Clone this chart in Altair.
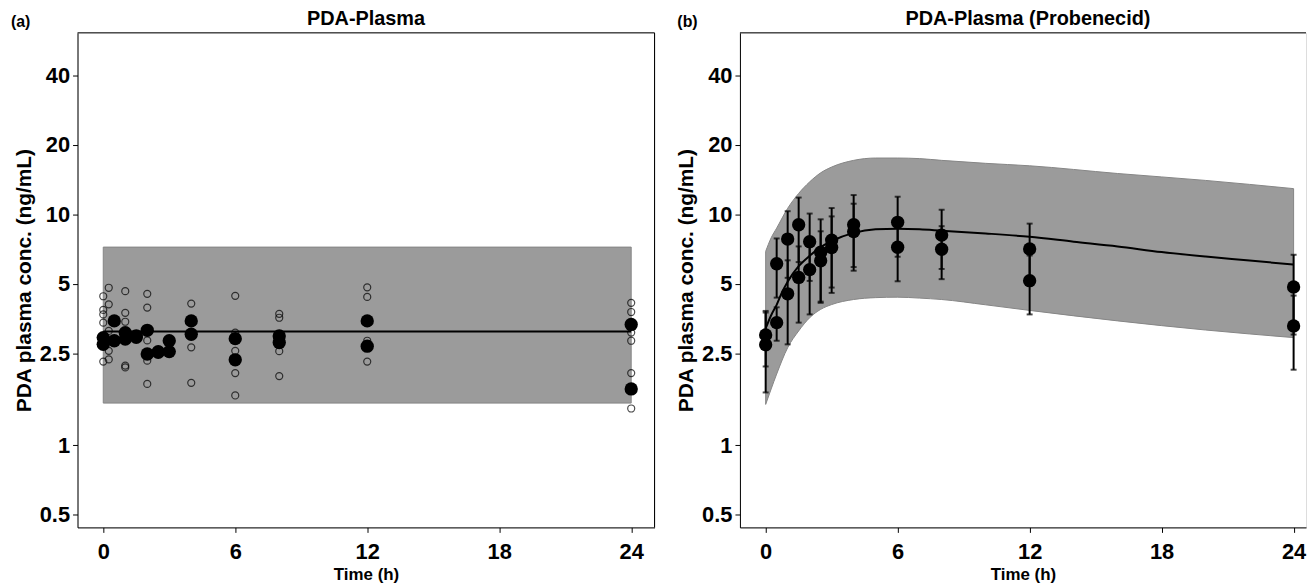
import altair as alt
import pandas as pd

# ---------------- Panel (a): PDA-Plasma ----------------
a_open_t = [0, 0, 0, 0, 0, 0.25, 0.25, 0.25, 0.25, 0.25, 1, 1, 1, 1, 1,
            2, 2, 2, 2, 2, 4, 4, 4, 6, 6, 6, 6, 6, 8, 8, 8, 8,
            12, 12, 12, 12, 24, 24, 24, 24, 24, 24]
a_open_v = [4.41, 3.85, 3.68, 3.39, 2.30, 4.80, 4.07, 3.12, 2.56, 2.35,
            4.64, 3.74, 3.42, 2.21, 2.17, 4.52, 3.94, 2.84, 2.32, 1.84,
            4.10, 2.65, 1.86, 4.43, 3.07, 2.56, 2.05, 1.64,
            3.70, 3.56, 2.55, 1.99, 4.82, 4.38, 2.83, 2.30,
            4.13, 3.77, 3.07, 2.83, 2.05, 1.44]

a_mean_t = [0, 0, 0.5, 0.5, 1, 1, 1.5, 1.5, 2, 2, 2.5, 2.5, 3, 3,
            4, 4, 6, 6, 8, 8, 12, 12, 24, 24]
a_mean_v = [2.92, 2.73, 3.45, 2.83, 3.07, 2.88, 2.97, 2.93, 3.14, 2.48,
            2.54, 2.52, 2.83, 2.54, 3.45, 3.02, 2.89, 2.34, 2.97, 2.78,
            3.45, 2.68, 3.33, 1.75]

a_band_t = [0, 24]
a_band_lo = [1.52, 1.52]
a_band_hi = [7.2, 7.2]
a_line_v = [3.1, 3.1]

# ---------------- Panel (b): PDA-Plasma (Probenecid) ----------------
b_obs_t = [0, 0, 0.5, 0.5, 1, 1, 1.5, 1.5, 2, 2, 2.5, 2.5, 3, 3,
           4, 4, 6, 6, 8, 8, 12, 12, 24, 24]
b_obs_v = [3.00, 2.72, 6.10, 3.39, 7.80, 4.52, 9.00, 5.32, 7.60, 5.75,
           6.84, 6.28, 7.72, 7.17, 9.00, 8.40, 9.22, 7.19, 8.12, 7.05,
           7.07, 5.15, 4.84, 3.28]
b_obs_lo = [2.19, 1.69, 4.35, 2.83, 5.30, 2.73, 6.20, 3.39, 5.14, 3.68,
            4.18, 4.13, 4.81, 4.56, 5.90, 5.69, 6.54, 5.12, 5.79, 5.23,
            5.04, 3.68, 3.01, 2.12]
b_obs_hi = [3.81, 3.75, 7.85, 3.95, 10.30, 6.31, 11.80, 7.25, 10.06, 7.82,
            9.50, 8.43, 10.63, 9.78, 12.10, 11.10, 11.90, 9.26, 10.45, 8.87,
            9.10, 6.62, 6.67, 4.44]

b_pred_t = [0, 0.25, 0.5, 0.75, 1, 1.5, 2, 2.5, 3, 4, 5, 6, 7, 8,
            10, 12, 14, 16, 18, 20, 22, 24]
b_pred_v = [3.2, 3.65, 4.05, 4.6, 5.1, 5.95, 6.6, 7.2, 7.65, 8.3, 8.6,
            8.65, 8.6, 8.48, 8.25, 7.98, 7.6, 7.25, 6.85, 6.55, 6.3, 6.05]

b_band_t = [0, 0.25, 0.5, 1, 1.5, 2, 2.5, 3, 4, 5, 6, 7, 8, 10, 12, 16, 20, 24]
b_band_lo = [1.5, 1.75, 2.03, 2.64, 3.12, 3.56, 3.87, 4.06, 4.27, 4.35,
             4.37, 4.33, 4.27, 4.05, 3.83, 3.45, 3.15, 2.92]
b_band_hi = [6.9, 7.9, 8.7, 10.6, 12.3, 13.8, 15.1, 16.0, 17.1, 17.5,
             17.5, 17.4, 17.1, 16.6, 16.2, 15.0, 14.0, 12.9]

y_ticks = [0.5, 1, 2.5, 5, 10, 20, 40]
x_ticks = [0, 6, 12, 18, 24]

FONT = "Liberation Sans"
PX_PER_H = 22.15
W1, W2, H = 581, 570, 498
X_MIN = -1.17
Y_DOMAIN = [0.44, 61]
BAND_FILL = "#9b9b9b"
LBL = 22


def x_enc(domain_max):
    return alt.X(
        "t:Q",
        scale=alt.Scale(domain=[X_MIN, domain_max], nice=False, zero=False),
        axis=alt.Axis(values=x_ticks, title="Time (h)", grid=False,
                      labelFont=FONT, labelFontSize=LBL, labelFontWeight="bold",
                      labelColor="black", titleFont=FONT, titleFontSize=17,
                      titleFontWeight="bold", titleColor="black",
                      tickColor="black", domainColor="black", tickSize=5,
                      labelPadding=9, titlePadding=4),
    )


def y_enc(field="v"):
    return alt.Y(
        f"{field}:Q",
        scale=alt.Scale(type="log", domain=Y_DOMAIN, nice=False),
        axis=alt.Axis(values=y_ticks, format="~g",
                      title="PDA plasma conc. (ng/mL)", grid=False,
                      labelFont=FONT, labelFontSize=LBL, labelFontWeight="bold",
                      labelColor="black", titleFont=FONT, titleFontSize=21,
                      titleFontWeight="bold", titleColor="black",
                      tickColor="black", domainColor="black", tickSize=5,
                      labelPadding=3, titlePadding=5),
    )


one = pd.DataFrame({"k": [0]})


def text_mark(s, x, y, size, align):
    return alt.Chart(pd.DataFrame({"s": [s]})).mark_text(
        font=FONT, fontSize=size, fontWeight="bold", color="black",
        align=align, baseline="middle").encode(
        text="s:N", x=alt.value(x), y=alt.value(y))


# ----- panel a -----
xa_max = X_MIN + W1 / PX_PER_H
a_band = pd.DataFrame({"t": a_band_t, "lo": a_band_lo, "hi": a_band_hi})
a_line = pd.DataFrame({"t": a_band_t, "v": a_line_v})
a_open = pd.DataFrame({"t": a_open_t, "v": a_open_v})
a_mean = pd.DataFrame({"t": a_mean_t, "v": a_mean_v})

pa_band = alt.Chart(a_band).mark_area(color=BAND_FILL, stroke="#858585",
                                      strokeWidth=1).encode(
    x=x_enc(xa_max), y=y_enc("lo"), y2="hi:Q")
pa_line = alt.Chart(a_line).mark_line(color="black", strokeWidth=2).encode(
    x=x_enc(xa_max), y=y_enc("v"))
pa_open = alt.Chart(a_open).mark_point(shape="circle", filled=False,
                                       color="black", size=50,
                                       strokeWidth=1.2).encode(
    x=x_enc(xa_max), y=y_enc("v"))
pa_mean = alt.Chart(a_mean).mark_circle(color="black", opacity=1,
                                        size=180).encode(
    x=x_enc(xa_max), y=y_enc("v"))
pa_top = alt.Chart(one).mark_rule(color="black", strokeWidth=1).encode(
    x=alt.value(0), x2=alt.value(W1), y=alt.value(0))
pa_right = alt.Chart(one).mark_rule(color="black", strokeWidth=1).encode(
    x=alt.value(W1), y=alt.value(0), y2=alt.value(H))
pa_lab = text_mark("(a)", -67, -11, 16, "left")
pa_title = text_mark("PDA-Plasma", W1 / 2, -14, 20, "center")

panel_a = alt.layer(pa_band, pa_line, pa_open, pa_mean, pa_top, pa_right,
                    pa_lab, pa_title).properties(width=W1, height=H)

# ----- panel b -----
xb_max = X_MIN + W2 / PX_PER_H
b_band = pd.DataFrame({"t": b_band_t, "lo": b_band_lo, "hi": b_band_hi})
b_pred = pd.DataFrame({"t": b_pred_t, "v": b_pred_v})
b_obs = pd.DataFrame({"t": b_obs_t, "v": b_obs_v, "lo": b_obs_lo,
                      "hi": b_obs_hi})

pb_band = alt.Chart(b_band).mark_area(color=BAND_FILL, stroke="#858585",
                                      strokeWidth=1,
                                      interpolate="monotone").encode(
    x=x_enc(xb_max), y=y_enc("lo"), y2="hi:Q")
pb_line = alt.Chart(b_pred).mark_line(color="black", strokeWidth=2,
                                      interpolate="monotone").encode(
    x=x_enc(xb_max), y=y_enc("v"))
pb_err = alt.Chart(b_obs).mark_rule(color="black", strokeWidth=2).encode(
    x=x_enc(xb_max), y=y_enc("lo"), y2="hi:Q")
pb_cap_lo = alt.Chart(b_obs).mark_tick(color="black", orient="horizontal",
                                       size=6, thickness=2).encode(
    x=x_enc(xb_max), y=y_enc("lo"))
pb_cap_hi = alt.Chart(b_obs).mark_tick(color="black", orient="horizontal",
                                       size=6, thickness=2).encode(
    x=x_enc(xb_max), y=y_enc("hi"))
pb_pts = alt.Chart(b_obs).mark_circle(color="black", opacity=1,
                                      size=180).encode(
    x=x_enc(xb_max), y=y_enc("v"))
pb_top = alt.Chart(one).mark_rule(color="black", strokeWidth=1).encode(
    x=alt.value(0), x2=alt.value(W2), y=alt.value(0))
pb_lab = text_mark("(b)", -63, -11, 16, "left")
pb_title = text_mark("PDA-Plasma (Probenecid)", 290, -14, 20, "center")

panel_b = alt.layer(pb_band, pb_line, pb_err, pb_cap_lo, pb_cap_hi, pb_pts,
                    pb_top, pb_lab, pb_title).properties(width=W2, height=H)

chart = alt.hconcat(panel_a, panel_b, spacing=19).properties(
    padding={"left": 2, "right": 0, "top": -2, "bottom": 0}
).configure_view(stroke=None).configure(font=FONT, background="white")

chart.save("out.html", embed_options={"renderer": "svg", "actions": False})
